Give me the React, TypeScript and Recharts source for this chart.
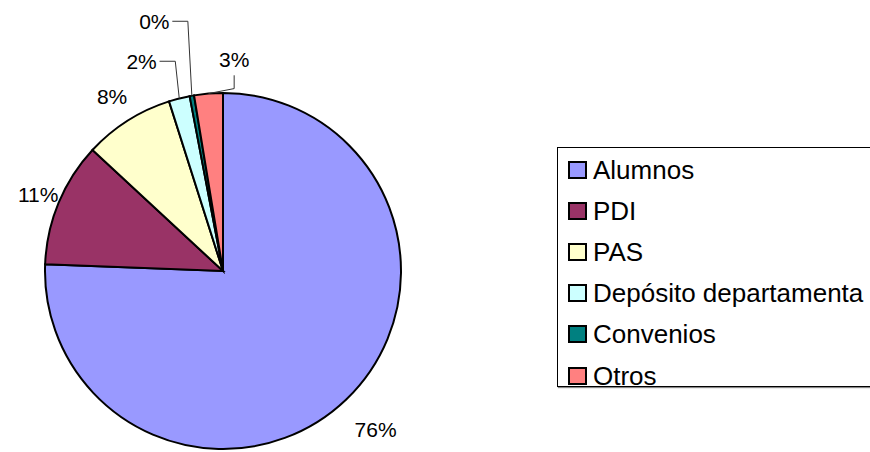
import { PieChart, Pie, Cell, Legend } from 'recharts';

const categories = ['Alumnos', 'PDI', 'PAS', 'Depósito departamenta', 'Convenios', 'Otros'];
const shares = [75.6, 11.3, 8.2, 1.9, 0.4, 2.6];
const percentLabels = ['76%', '11%', '8%', '2%', '0%', '3%'];
const colors = ['#9999FF', '#993366', '#FFFFCC', '#CCFFFF', '#008080', '#FF8080'];

const data = categories.map((name, i) => ({ name, value: shares[i], label: percentLabels[i] }));

// angle / distance tweaks so the labels sit where Excel put them
const labelNudge = [
  { da: 0, dr: 42 },
  { da: 0, dr: 22 },
  { da: 0, dr: 29 },
  { da: 7, dr: 47 },
  { da: 5.3, dr: 81 },
  { da: -7.7, dr: 34 },
];

const RAD = Math.PI / 180;

const renderLabel = (props: any) => {
  const { cx, cy, midAngle, outerRadius, index } = props;
  const n = labelNudge[index];
  const a = (midAngle + n.da) * RAD;
  const r = outerRadius + n.dr;
  const lx = cx + r * Math.cos(a);
  const ly = cy - r * Math.sin(a);
  const ex = cx + outerRadius * Math.cos(midAngle * RAD);
  const ey = cy - outerRadius * Math.sin(midAngle * RAD);
  let line = null;
  if (index === 3 || index === 4) {
    const pts = `${lx + 18},${ly} ${ex - 4},${ly} ${ex},${ey}`;
    line = <polyline points={pts} fill="none" stroke="#333" strokeWidth={1} />;
  } else if (index === 5) {
    const pts = `${ex},${ey} ${lx},${ey - 5} ${lx},${ly + 16}`;
    line = <polyline points={pts} fill="none" stroke="#333" strokeWidth={1} />;
  }
  return (
    <g>
      {line}
      <text
        x={lx}
        y={ly}
        textAnchor="middle"
        dominantBaseline="central"
        fontFamily="'Liberation Sans', Arial, sans-serif"
        fontSize={21}
        fill="#000"
      >
        {percentLabels[index]}
      </text>
    </g>
  );
};

const LegendBox = () => (
  <div
    style={{
      width: 340,
      height: 240,
      border: '1px solid #000',
      boxShadow: '1px 1px 1px #888',
      boxSizing: 'border-box',
      paddingTop: 1,
      background: '#fff',
      fontFamily: "'Liberation Sans', Arial, sans-serif",
    }}
  >
    {categories.map((c, i) => (
      <div key={c} style={{ height: 41.2, display: 'flex', alignItems: 'center', paddingLeft: 10 }}>
        <span
          style={{
            width: 15,
            height: 14,
            border: '2px solid #000',
            background: colors[i],
            display: 'inline-block',
            marginRight: 6,
          }}
        />
        <span style={{ fontSize: 26, lineHeight: '26px', color: '#000', whiteSpace: 'nowrap' }}>{c}</span>
      </div>
    ))}
  </div>
);

export default function App() {
  return (
    <div style={{ position: 'absolute', left: 0, top: 0, width: 870, height: 452, overflow: 'hidden', background: '#fff' }}>
      <PieChart width={870} height={452} margin={{ top: 0, right: 0, bottom: 0, left: 0 }}>
        <Pie
          data={data}
          dataKey="value"
          nameKey="name"
          cx={223}
          cy={271}
          outerRadius={178}
          startAngle={90}
          endAngle={-270}
          stroke="#000"
          strokeWidth={2}
          label={renderLabel}
          labelLine={false}
          isAnimationActive={false}
        >
          {data.map((d, i) => (
            <Cell key={d.name} fill={colors[i]} />
          ))}
        </Pie>
        <Legend
          content={() => <LegendBox />}
          wrapperStyle={{ position: 'absolute', left: 557, top: 147, width: 340 }}
        />
      </PieChart>
    </div>
  );
}
